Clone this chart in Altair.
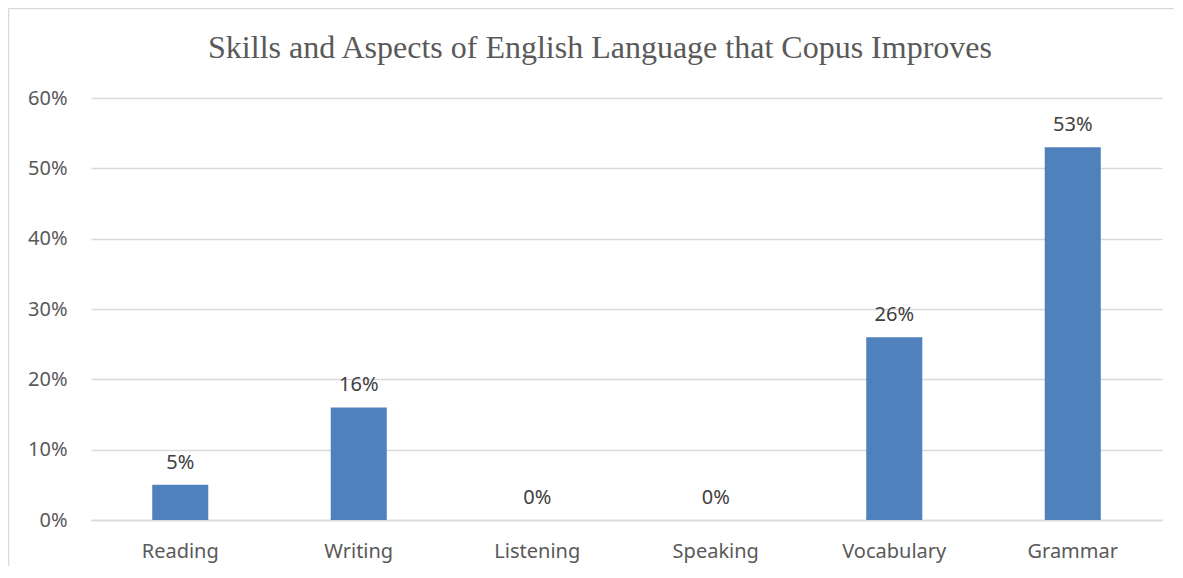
import altair as alt
import pandas as pd

categories = ["Reading", "Writing", "Listening", "Speaking", "Vocabulary", "Grammar"]
values = [0.05, 0.16, 0.0, 0.0, 0.26, 0.53]
labels = ["5%", "16%", "0%", "0%", "26%", "53%"]
title_text = "Skills and Aspects of English Language that Copus Improves"

df = pd.DataFrame({"cat": categories, "val": values, "lab": labels})

x = alt.X("cat:N", sort=categories, title=None,
          scale=alt.Scale(paddingInner=0.686, paddingOuter=0.343),
          axis=alt.Axis(labelAngle=0, labelFont="Noto Sans", labelFontSize=20,
                        labelColor="#595959", labelPadding=21, ticks=False,
                        domainColor="#d9d9d9", domainWidth=1.5, grid=False))
y = alt.Y("val:Q", title=None,
          scale=alt.Scale(domain=[0, 0.6], nice=False),
          axis=alt.Axis(format=".0%", values=[0, 0.1, 0.2, 0.3, 0.4, 0.5, 0.6],
                        labelFont="Noto Sans", labelFontSize=20, labelColor="#595959",
                        labelPadding=24, ticks=False, domain=False,
                        gridColor="#d9d9d9", gridWidth=1.5))

bars = alt.Chart(df).mark_bar(color="#4f81bd").encode(x=x, y=y)
text = alt.Chart(df).mark_text(baseline="alphabetic", dy=-16, font="Noto Sans",
                               fontSize=20, color="#404040").encode(
    x=alt.X("cat:N", sort=categories), y="val:Q", text="lab:N")

frame = alt.Chart(pd.DataFrame({"a": [0]})).mark_rule(
    stroke="#d9d9d9", strokeWidth=1.5).encode(
    x=alt.value(-82.5), x2=alt.value(1200), y=alt.value(-89.5))
frame_left = alt.Chart(pd.DataFrame({"a": [0]})).mark_rule(
    stroke="#d9d9d9", strokeWidth=1.5).encode(
    x=alt.value(-82.5), y=alt.value(-89.5), y2=alt.value(600))

title = alt.Chart(pd.DataFrame({"t": [title_text]})).mark_text(
    font="Liberation Serif", fontSize=32, color="#595959",
    align="center", baseline="alphabetic").encode(
    x=alt.value(509), y=alt.value(-40), text="t:N")

chart = alt.layer(frame, frame_left, title, bars, text).properties(
    width=1071, height=422,
    background="white",
    autosize=alt.AutoSizeParams(type="none"),
    padding={"left": 83, "top": 90, "right": 12, "bottom": 46},
).configure_view(strokeWidth=0, stroke="transparent")

chart.save("out.html", embed_options={"renderer": "svg", "actions": False})
